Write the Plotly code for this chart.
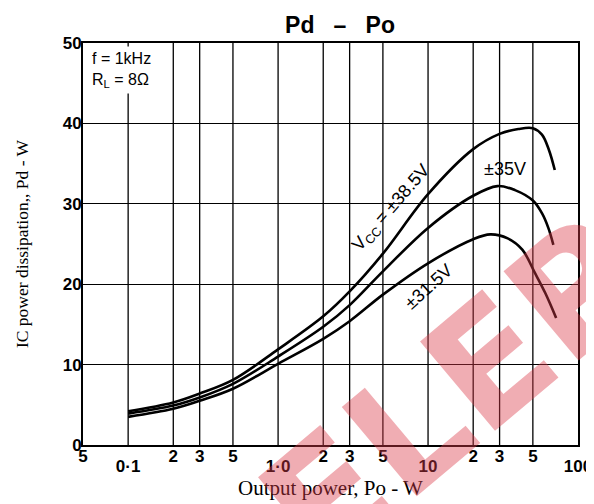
import plotly.graph_objects as go

# ---- data ----
x_385 = [0.1, 0.2, 0.3, 0.5, 1, 2, 3, 5, 10, 20, 30, 40, 50, 57.5, 64, 70]
y_385 = [4.2, 5.3, 6.4, 8.1, 11.9, 16.0, 19.1, 23.8, 31.2, 36.8, 38.7, 39.3, 39.4, 38.6, 36.7, 34.2]

x_35 = [0.1, 0.2, 0.3, 0.5, 1, 2, 3, 5, 10, 20, 29, 38, 50, 57.6, 63.4, 68.5]
y_35 = [3.9, 4.9, 5.9, 7.6, 11.0, 14.7, 17.4, 21.6, 27.0, 31.0, 32.2, 31.7, 30.4, 28.8, 27.0, 24.9]

x_315 = [0.1, 0.2, 0.3, 0.5, 1, 2, 3, 5, 10, 20, 26, 34, 42.5, 51.6, 60.5, 71.5]
y_315 = [3.5, 4.5, 5.5, 7.0, 10.1, 13.2, 15.4, 18.7, 22.6, 25.6, 26.2, 25.7, 24.3, 21.4, 18.9, 15.8]

minor_tick_vals = [0.05, 0.2, 0.3, 0.5, 2, 3, 5, 20, 30, 50]
minor_tick_text = ["5", "2", "3", "5", "2", "3", "5", "2", "3", "5"]
major_tick_vals = [0.1, 1, 10, 100]
major_tick_text = ["0·1", "1·0", "10", "100"]
grid_x = [0.1, 0.2, 0.3, 0.5, 1, 2, 3, 5, 10, 20, 30, 50]
y_ticks = [0, 10, 20, 30, 40, 50]
y_tick_text = ["0", "10", "20", "30", "40", "50"]

fig = go.Figure()
for xs, ys in [(x_385, y_385), (x_35, y_35), (x_315, y_315)]:
    fig.add_trace(go.Scatter(x=xs, y=ys, mode="lines",
                             line=dict(color="black", width=2.6, shape="spline", smoothing=1.0),
                             showlegend=False, hoverinfo="skip"))

# vertical grid lines (only at labelled positions)
for gx in grid_x:
    fig.add_shape(type="line", xref="x", yref="y", x0=gx, x1=gx, y0=0, y1=50,
                  line=dict(color="black", width=1.3), layer="below")

tickfont = dict(family="Liberation Sans", size=17, color="black")
bold = lambda s: "<b>%s</b>" % s

# The page body has an 8px margin, so the figure is sized/placed to compensate.
fig.update_layout(
    width=586, height=496,
    margin=dict(l=75, r=16, t=35, b=59, autoexpand=False),
    paper_bgcolor="white", plot_bgcolor="white",
    title=dict(text="<b>Pd&nbsp;&nbsp;&nbsp;–&nbsp;&nbsp;&nbsp;Po</b>", x=0.5666, xanchor="center",
               xref="container", y=0.966, yanchor="middle",
               font=dict(family="Liberation Sans", size=23, color="black")),
    xaxis=dict(type="log", range=[-1.301, 2.0], showgrid=False, zeroline=False,
               showline=True, linecolor="black", linewidth=2, mirror=True,
               tickmode="array", tickvals=minor_tick_vals,
               ticktext=[bold(t) for t in minor_tick_text],
               ticks="", tickfont=tickfont, ticklabelstandoff=-5,
               title=dict(text="Output power, Po - W", standoff=15,
                          font=dict(family="Liberation Serif", size=21, color="black"))),
    xaxis2=dict(type="log", range=[-1.301, 2.0], overlaying="x", anchor="y", side="bottom",
                showgrid=False, zeroline=False, showline=False,
                tickmode="array", tickvals=major_tick_vals,
                ticktext=[bold(t) for t in major_tick_text],
                ticks="outside", ticklen=13, tickcolor="rgba(0,0,0,0)",
                ticklabelstandoff=-7, tickfont=tickfont),
    yaxis=dict(range=[0, 50], showgrid=True, gridcolor="black", gridwidth=1.3,
               zeroline=False, showline=True, linecolor="black", linewidth=2, mirror=True,
               tickmode="array", tickvals=y_ticks, ticktext=[bold(v) for v in y_tick_text],
               ticks="", tickfont=tickfont, ticklabelstandoff=-4,
               title=dict(text="IC power dissipation,, Pd - W", standoff=30,
                          font=dict(family="Liberation Serif", size=17.5, color="black"))),
)
# dummy trace so xaxis2 is drawn
fig.add_trace(go.Scatter(x=[0.1], y=[None], xaxis="x2", showlegend=False, hoverinfo="skip"))

labfont = dict(family="Liberation Sans", size=18, color="black")
fig.add_annotation(x=-1.27, y=49.6, xref="x", yref="y", xanchor="left", yanchor="top",
                   text="f = 1kHz<br>R<sub>L</sub> = 8Ω", showarrow=False, align="left",
                   bgcolor="white", font=dict(family="Liberation Sans", size=16, color="black"),
                   borderpad=3)
fig.add_annotation(x=0.757, y=29.4, xref="x", yref="y", text="V<sub>CC</sub> = ±38.5V",
                   textangle=-49, showarrow=False, font=labfont)
fig.add_annotation(x=1.512, y=34.3, xref="x", yref="y", text="±35V",
                   showarrow=False, font=labfont)
fig.add_annotation(x=1.0, y=19.7, xref="x", yref="y", text="±31.5V",
                   textangle=-42, showarrow=False, font=labfont)

# red translucent watermark (lower right, cut by the page edge as in the reference)
fig.add_annotation(x=0.75, y=0.13, xref="paper", yref="paper", xanchor="center", yanchor="middle",
                   text="<b>ELEP</b>", textangle=-40, showarrow=False,
                   font=dict(family="DejaVu Sans", size=160, color="rgba(220,60,75,0.42)"))

fig.write_html("out.html")
